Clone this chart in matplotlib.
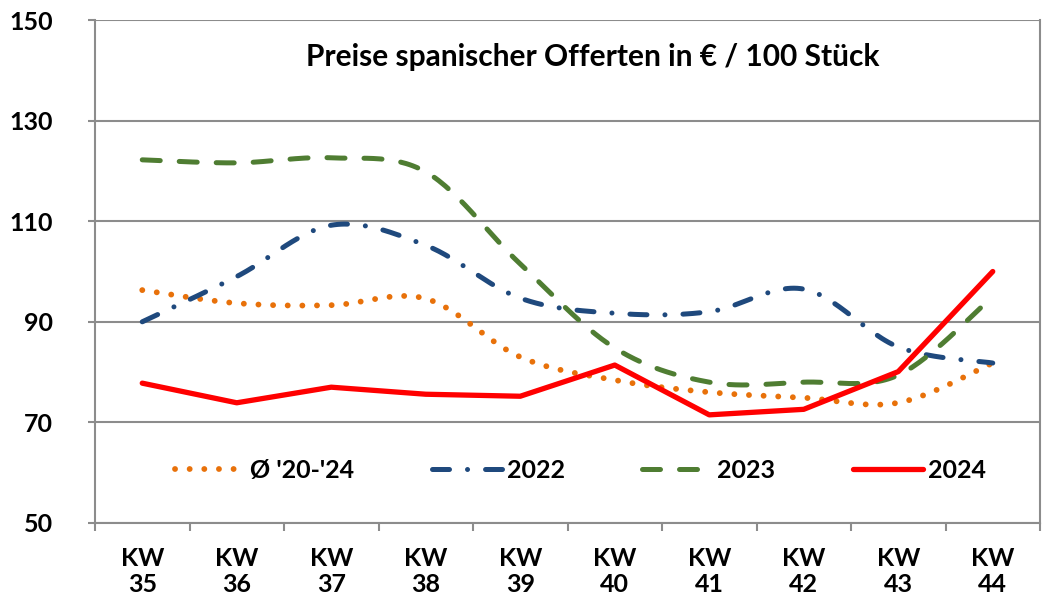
import numpy as np
import matplotlib
matplotlib.use("Agg")
import matplotlib.pyplot as plt

plt.rcParams['font.family'] = ['Lato', 'DejaVu Sans']

# data
weeks = ["KW\n35", "KW\n36", "KW\n37", "KW\n38", "KW\n39", "KW\n40", "KW\n41", "KW\n42", "KW\n43", "KW\n44"]
avg_20_24 = [96.3, 93.7, 93.3, 94.6, 83.0, 78.4, 76.0, 74.9, 73.9, 81.8]
y2022 = [90.0, 99.0, 109.2, 105.2, 94.7, 91.7, 92.0, 96.5, 85.0, 81.8]
y2023 = [122.2, 121.6, 122.6, 119.8, 101.5, 84.8, 78.0, 78.0, 79.4, 95.0]
y2024 = [77.8, 73.9, 77.0, 75.6, 75.2, 81.4, 71.5, 72.6, 80.1, 100.0]


def smooth(xs, ys, n=30):
    # Excel-like smoothed line (bezier through the points)
    x = np.asarray(xs, float)
    y = np.asarray(ys, float)
    px = np.concatenate([[x[0]], x, [x[-1]]])
    py = np.concatenate([[y[0]], y, [y[-1]]])
    ox, oy = [], []
    t = np.linspace(0, 1, n)
    for i in range(1, len(px) - 2):
        p0 = np.array([px[i], py[i]])
        p3 = np.array([px[i + 1], py[i + 1]])
        c1 = p0 + (np.array([px[i + 1], py[i + 1]]) - np.array([px[i - 1], py[i - 1]])) / 6
        c2 = p3 - (np.array([px[i + 2], py[i + 2]]) - np.array([px[i], py[i]])) / 6
        b = ((1 - t) ** 3)[:, None] * p0 + (3 * (1 - t) ** 2 * t)[:, None] * c1 \
            + (3 * (1 - t) * t ** 2)[:, None] * c2 + (t ** 3)[:, None] * p3
        if i > 1:
            b = b[1:]
        ox.extend(b[:, 0])
        oy.extend(b[:, 1])
    return ox, oy


fig = plt.figure(figsize=(10.5, 6.05), dpi=100)
ax = fig.add_axes([95 / 1050, 82 / 605, 945 / 1050, 503 / 605])

x = np.arange(len(weeks))
c_orange = '#E8710A'
c_blue = '#1F497D'
c_green = '#4F7D32'
c_red = '#FF0000'

sx, sy = smooth(x, avg_20_24)
ax.plot(sx, sy, color=c_orange, lw=4.2, linestyle=(0, (0.01, 2.5)),
        dash_capstyle='round', label="Ø '20-'24")
sx, sy = smooth(x, y2022)
ax.plot(sx, sy, color=c_blue, lw=3.6, linestyle=(0, (3.4, 3.6, 0.01, 3.6)),
        dash_capstyle='round', label='2022')
sx, sy = smooth(x, y2023)
ax.plot(sx, sy, color=c_green, lw=3.6, linestyle=(0, (3.6, 3.8)),
        dash_capstyle='round', label='2023')
ax.plot(x, y2024, color=c_red, lw=3.8, solid_capstyle='round', label='2024')

ax.set_xlim(-0.5, len(weeks) - 0.5)
ax.set_ylim(50, 150)
ax.set_yticks(np.arange(50, 151, 20))
ax.yaxis.grid(True, color='#8C8C8C', lw=1.5)
ax.set_axisbelow(True)

ax.set_xticks(np.arange(-0.5, len(weeks), 1))
ax.set_xticklabels([])
ax.set_xticks(x, minor=True)
ax.set_xticklabels(weeks, minor=True, fontsize=18, fontweight='bold', linespacing=1.2)
ax.tick_params(axis='x', which='minor', length=0, pad=17)
ax.tick_params(axis='x', which='major', length=6, width=1.5, color='#8C8C8C')
ax.tick_params(axis='y', length=5, width=1.5, color='#8C8C8C', pad=25, labelsize=18)
for lbl in ax.get_yticklabels():
    lbl.set_fontweight('bold')

for s in ['left', 'right', 'bottom']:
    ax.spines[s].set_color('#8C8C8C')
    ax.spines[s].set_linewidth(1.5)
ax.spines['top'].set_visible(False)

ax.text(0.527, 142.6, 'Preise spanischer Offerten in € / 100 Stück',
        transform=ax.get_yaxis_transform(), ha='center', va='center',
        fontsize=21.5, fontweight='bold')

ax.legend(loc='center left', bbox_to_anchor=(0.085, 0.105), ncol=4, frameon=False,
          prop={'size': 18, 'weight': 'bold'}, handlelength=2.8,
          handletextpad=0.2, columnspacing=3.1, borderpad=0, borderaxespad=0)

fig.savefig('out.png', dpi=100)
